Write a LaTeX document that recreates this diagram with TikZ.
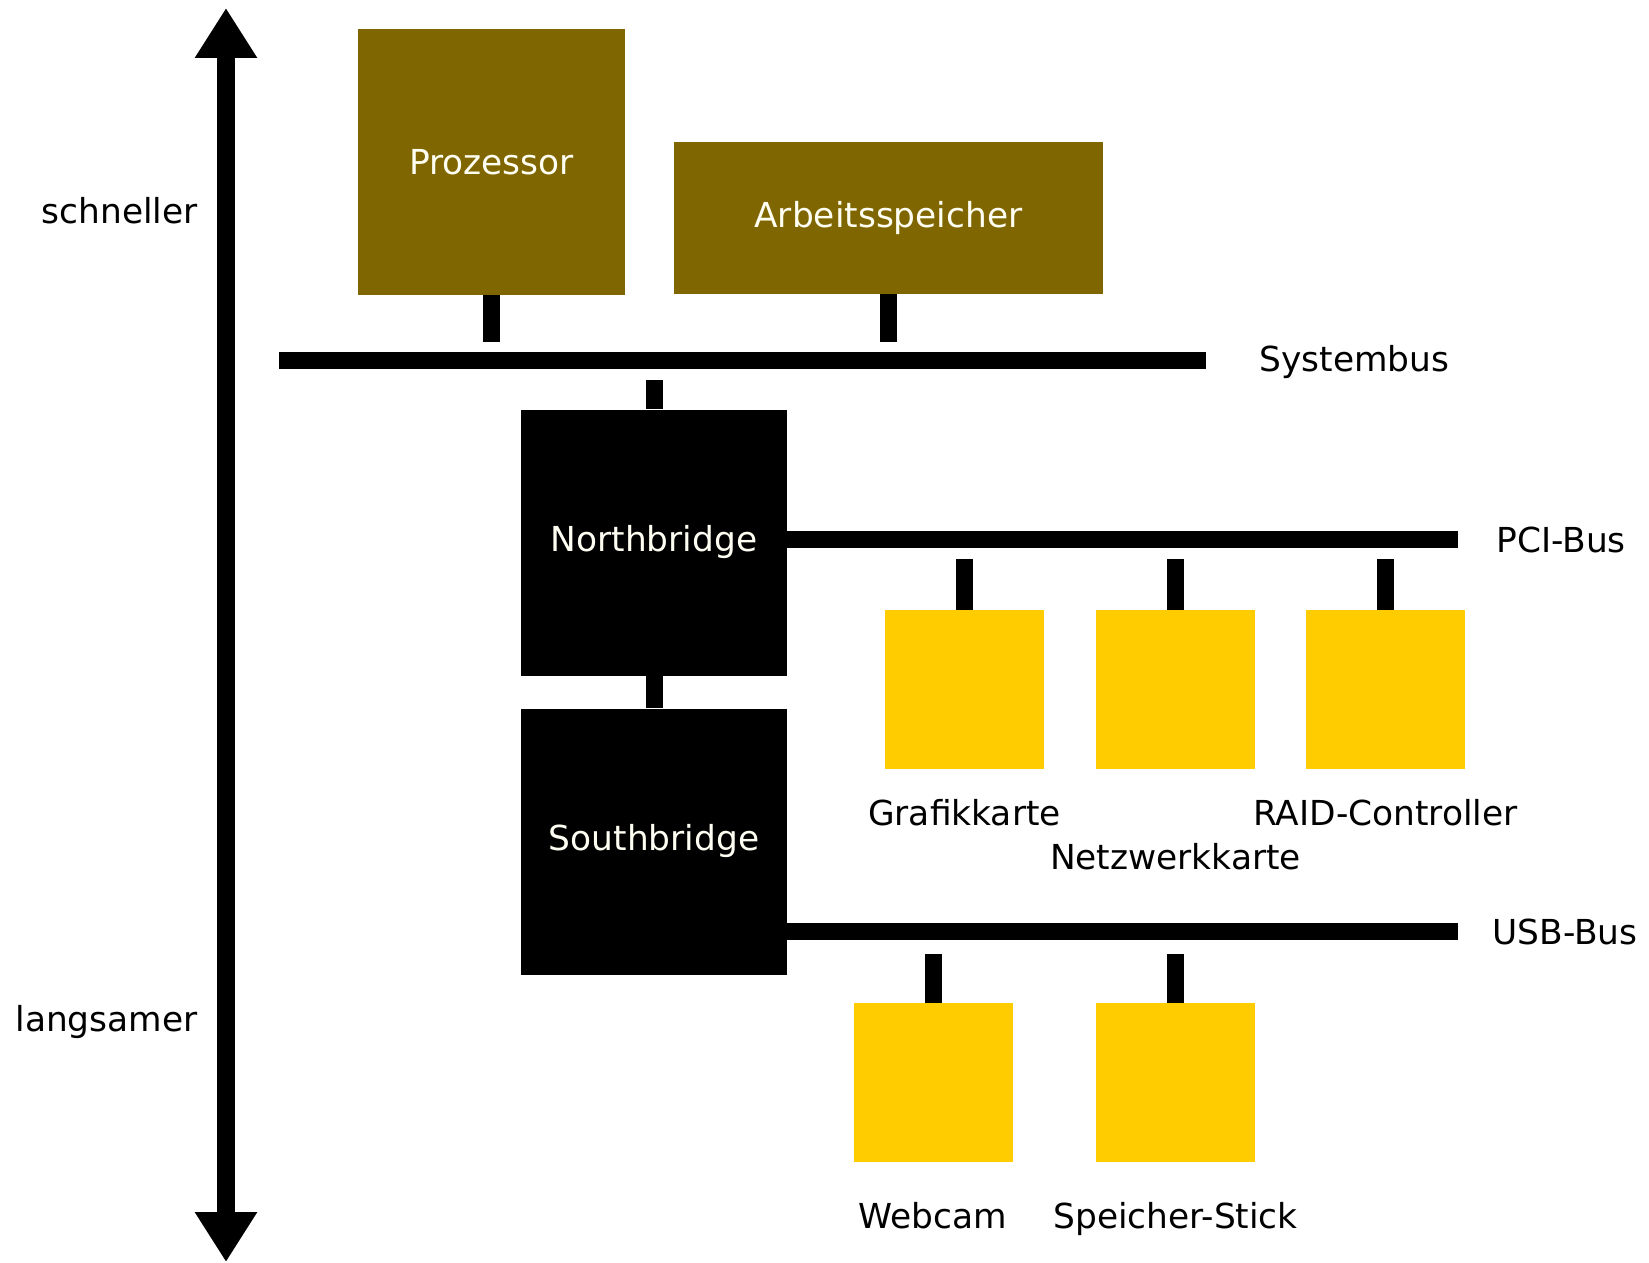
\documentclass[tikz,border=0pt]{standalone}
\usepackage{fontspec}
\setmainfont{DejaVu Sans}
\usetikzlibrary{arrows.meta,positioning}
\definecolor{cpuolive}{HTML}{806600}
\definecolor{cardyellow}{HTML}{FFCC00}

\begin{document}
\begin{tikzpicture}[x=0.5pt, y=-0.5pt,
    every node/.style={font=\fontsize{17.2}{20}\selectfont, inner sep=0pt},
    chip/.style={fill=cpuolive, text=white!95!yellow},
    bridge/.style={fill=black, text=white!95!yellow, minimum width=133pt, minimum height=133pt},
    card/.style={fill=cardyellow, minimum width=79.5pt, minimum height=79.5pt},
    bus/.style={line width=8.5pt},
    stub/.style={line width=8.5pt, shorten >=9.5pt},
    lbl/.style={anchor=base}
]
\useasboundingbox (0,0) rectangle (1649,1263);

% speed axis
\coordinate (fast) at (226,8);
\coordinate (slow) at (226,1262);
\draw[line width=9pt, {Triangle[width=29.5pt,length=25pt]}-{Triangle[width=29.5pt,length=25pt]}] (slow) -- (fast);
\node[anchor=base east] (schneller) at (198,223) {schneller};
\node[anchor=base east] (langsamer) at (198,1031) {langsamer};

% system bus
\node[chip, minimum width=133.5pt, minimum height=133pt] (cpu) at (491.5,162) {Prozessor};
\node[chip, minimum width=214.5pt, minimum height=76pt] (ram) at (888.5,218) {Arbeitsspeicher};
\coordinate (sysL) at (279,360.5);
\coordinate (sysR) at (1206,360.5);
\draw[bus] (sysL) -- (sysR);
\node[anchor=base west] (sysbus) at (1259,371) {Systembus};
\draw[stub] (cpu.south) -- (cpu.south |- sysL);
\draw[stub] (ram.south) -- (ram.south |- sysL);

% bridges
\node[bridge] (nb) at (654,542.5) {Northbridge};
\node[bridge] (sb) at (654,841.5) {Southbridge};
\draw[stub] (nb.north) -- (nb.north |- sysL);
\draw[bus] (nb.south) -- (sb.north);

% PCI bus
\coordinate (pciR) at (1458,539.5);
\draw[bus] (nb.east |- pciR) -- (pciR);
\node[anchor=base west] (pcibus) at (1496,552) {PCI-Bus};
\foreach \n/\x/\ly/\t in {gfx/964.5/825/Grafikkarte, nic/1175.5/869/Netzwerkkarte, raid/1385.5/825/RAID-Controller} {
    \node[card] (\n) at (\x,689.5) {};
    \draw[stub] (\n.north) -- (\n.north |- pciR);
    \node[lbl] (\n-label) at (\x,\ly) {\t};
}

% USB bus
\coordinate (usbR) at (1458,931);
\draw[bus] (sb.east |- usbR) -- (usbR);
\node[anchor=base west] (usbbus) at (1492,944) {USB-Bus};
\foreach \n/\x/\t in {cam/933/Webcam, stick/1175.5/Speicher-Stick} {
    \node[card] (\n) at (\x,1082.5) {};
    \draw[stub, shorten >=11.5pt] (\n.north) -- (\n.north |- usbR);
    \node[lbl] (\n-label) at (\x,1228) {\t};
}
\end{tikzpicture}
\end{document}
